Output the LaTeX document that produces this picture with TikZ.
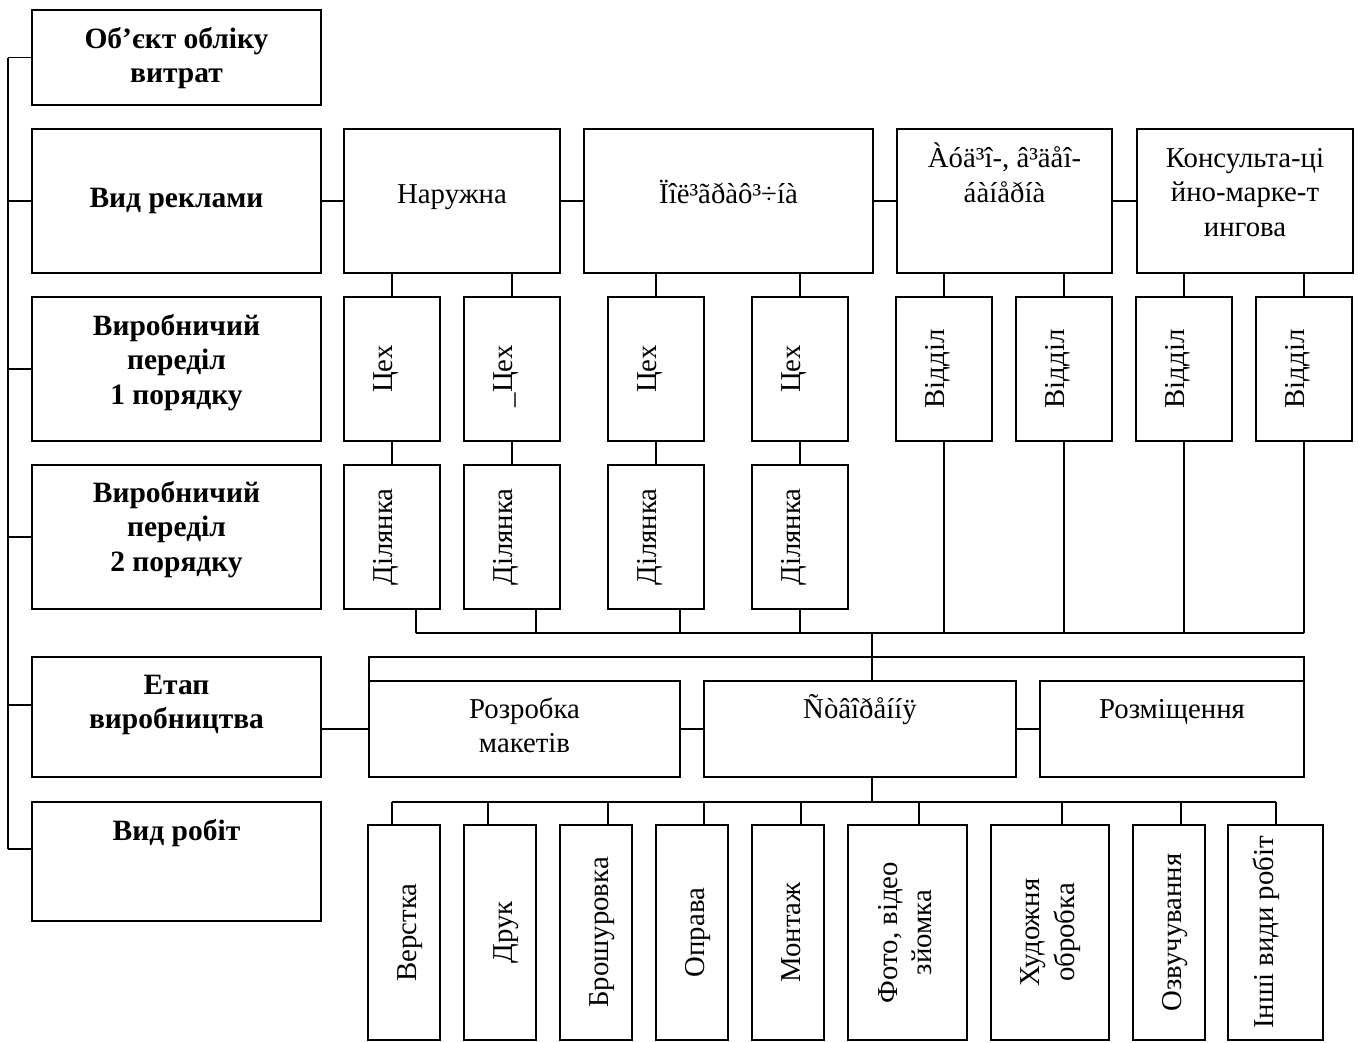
\documentclass[tikz,border=0pt]{standalone}
\usepackage{fontspec}
\setmainfont{Liberation Serif}
\usepackage{graphicx}
\newdimen\bxw \newdimen\bxh
% top-aligned text: #1 = distance from box top to first baseline
\newcommand\tbx[2]{\parbox[c][\bxh][t]{\bxw}{\vspace*{\dimexpr#1pt-\ht\strutbox\relax}\centering\strut#2\par}}
% rotated text with forced depth #1 and height #2
\newcommand\rtx[3]{\rotatebox{90}{\rule[-#1pt]{0pt}{\dimexpr#1pt+#2pt\relax}#3}}
\newcommand\rtt[2]{\rotatebox{90}{\begin{tabular}{@{}c@{}}#1\\#2\end{tabular}}}
% box: [style]{name}{x1}{y1}{x2}{y2}{content}
\newcommand\Bx[7][]{%
  \global\bxw=\dimexpr#5pt-#3pt\relax \global\bxh=\dimexpr#6pt-#4pt\relax
  \node[bx,#1,minimum width=\bxw,minimum height=\bxh] (#2) at ({(#3+#5)/2},{(#4+#6)/2}) {#7};}
\begin{document}
\begin{tikzpicture}[x=1pt,y=-1pt,line width=1.9pt,
  bx/.style={draw,line width=1.9pt,inner sep=0pt,outer sep=0pt},
  lab/.style={font=\fontsize{29.5}{34.5}\selectfont\bfseries},
  reg/.style={font=\fontsize{28.8}{34.5}\selectfont}]
\useasboundingbox (0,0) rectangle (1358,1042);
% left column
\Bx[lab]{L1}{32}{10}{321}{105}{\tbx{38}{Об’єкт обліку\\витрат}}
\Bx[lab]{L2}{32}{129}{321}{273}{\tbx{78}{Вид реклами}}
\Bx[lab]{L3}{32}{297}{321}{441}{\tbx{38}{Виробничий\\переділ\\1 порядку}}
\Bx[lab]{L4}{32}{465}{321}{609}{\tbx{37}{Виробничий\\переділ\\2 порядку}}
\Bx[lab]{L5}{32}{657}{321}{777}{\tbx{37}{Етап\\виробництва}}
\Bx[lab]{L6}{32}{802}{321}{921}{\tbx{38}{Вид робіт}}
% kinds of advertising
\Bx[reg]{Nar}{344}{129}{560}{273}{\tbx{74}{Наружна}}
\Bx[reg]{Pol}{584}{129}{873}{273}{\tbx{74}{Ïîë³ãðàô³÷íà}}
\Bx[reg]{Aud}{897}{129}{1112}{273}{\tbx{38}{Àóä³î-, â³äåî-\\áàíåðíà}}
\Bx[reg]{Kon}{1137}{129}{1353}{273}{\tbx{38}{Консульта-ці\\йно-марке-т\\ингова}}
% first order
\Bx[reg]{C1}{344}{297}{440}{441}{\rtx{20}{20}{Цех}}
\Bx[reg]{C2}{464}{297}{560}{441}{\rtx{20}{20}{\llap{\_}Цех}}
\Bx[reg]{C3}{608}{297}{704}{441}{\rtx{20}{20}{Цех}}
\Bx[reg]{C4}{752}{297}{848}{441}{\rtx{20}{20}{Цех}}
\Bx[reg]{V1}{896}{297}{992}{441}{\rtx{20}{20}{Відділ}}
\Bx[reg]{V2}{1016}{297}{1112}{441}{\rtx{20}{20}{Відділ}}
\Bx[reg]{V3}{1136}{297}{1232}{441}{\rtx{20}{20}{Відділ}}
\Bx[reg]{V4}{1256}{297}{1352}{441}{\rtx{20}{20}{Відділ}}
% second order
\Bx[reg]{D1}{344}{465}{440}{609}{\rtx{20}{20}{Ділянка}}
\Bx[reg]{D2}{464}{465}{560}{609}{\rtx{20}{20}{Ділянка}}
\Bx[reg]{D3}{608}{465}{704}{609}{\rtx{20}{20}{Ділянка}}
\Bx[reg]{D4}{752}{465}{848}{609}{\rtx{20}{20}{Ділянка}}
% stages
\Bx[reg]{R}{369}{681}{680}{777}{\tbx{37}{Розробка\\макетів}}
\Bx[reg]{S}{704}{681}{1016}{777}{\tbx{37}{Ñòâîðåííÿ}}
\Bx[reg]{M}{1040}{681}{1304}{777}{\tbx{37}{Розміщення}}
% works
\Bx[reg]{W1}{368}{825}{440}{1040}{\rtx{8}{32}{Верстка}}
\Bx[reg]{W2}{464}{825}{536}{1040}{\rtx{8}{32}{Друк}}
\Bx[reg]{W3}{560}{825}{632}{1040}{\rtx{8}{32}{Брошуровка}}
\Bx[reg]{W4}{656}{825}{728}{1040}{\rtx{8}{32}{Оправа}}
\Bx[reg]{W5}{752}{825}{824}{1040}{\rtx{8}{32}{Монтаж}}
\Bx[reg]{W6}{848}{825}{967}{1040}{\rtt{Фото, відео}{зйомка}}
\Bx[reg]{W7}{991}{825}{1109}{1040}{\rtt{Художня}{обробка}}
\Bx[reg]{W8}{1133}{825}{1205}{1040}{\rtx{8}{32}{Озвучування}}
\Bx[reg]{W9}{1228}{825}{1323}{1040}{\rtx{25}{15}{Інші види робіт}}
% left bus
\coordinate (lx) at (8,0);
\coordinate (l5t) at ([yshift=12pt]L5.west);
\coordinate (l6t) at ([yshift=12.5pt]L6.west);
\draw (L1.west -| lx) -- (l6t -| lx);
\foreach \n in {L1.west,L2.west,L3.west,L4.west,l5t,l6t} \draw (\n) -- (\n -| lx);
% row 2
\draw (L2.east) -- (Nar.west);
\draw (Nar.east) -- (Pol.west);
\draw (Pol.east) -- (Aud.west);
\draw (Aud.east) -- (Kon.west);
\foreach \a/\b in {Nar/C1,Nar/C2,Pol/C3,Pol/C4,Aud/V1,Aud/V2,Kon/V3,Kon/V4}
  \draw (\b.north) -- (\b.north |- \a.south);
\foreach \i in {1,...,4} \draw (C\i.south) -- (D\i.north);
% bus 1
\coordinate (b1) at (0,633);
\foreach \n/\s in {D1/24,D2/24,D3/24,D4/0}
  {\coordinate (t\n) at ([xshift=\s*1pt]\n.south); \draw (t\n) -- (t\n |- b1);}
\foreach \n in {V1,V2,V3,V4} \draw (\n.south) -- (\n.south |- b1);
\draw (tD1 |- b1) -- (V4.south |- b1);
\coordinate (sn) at ([xshift=12pt]S.north);
\draw (sn |- b1) -- (sn);
\coordinate (b2) at (0,657);
\draw (R.north west) -- (R.north west |- b2) -- (M.north east |- b2) -- (M.north east);
% row 5
\draw (R.west) -- (R.west -| L5.east);
\draw (R.east) -- (S.west);
\draw (S.east) -- (M.west);
% bottom bus
\coordinate (ss) at ([xshift=12pt]S.south);
\coordinate (b3) at (0,802);
\draw (ss) -- (ss |- b3);
\foreach \n/\s in {W1/-12,W2/-12,W3/12,W4/12,W5/13,W6/11.5,W7/12,W8/12,W9/0.5}
  {\coordinate (t\n) at ([xshift=\s*1pt]\n.north); \draw (t\n) -- (t\n |- b3);}
\draw (tW1 |- b3) -- (tW9 |- b3);
\end{tikzpicture}
\end{document}
